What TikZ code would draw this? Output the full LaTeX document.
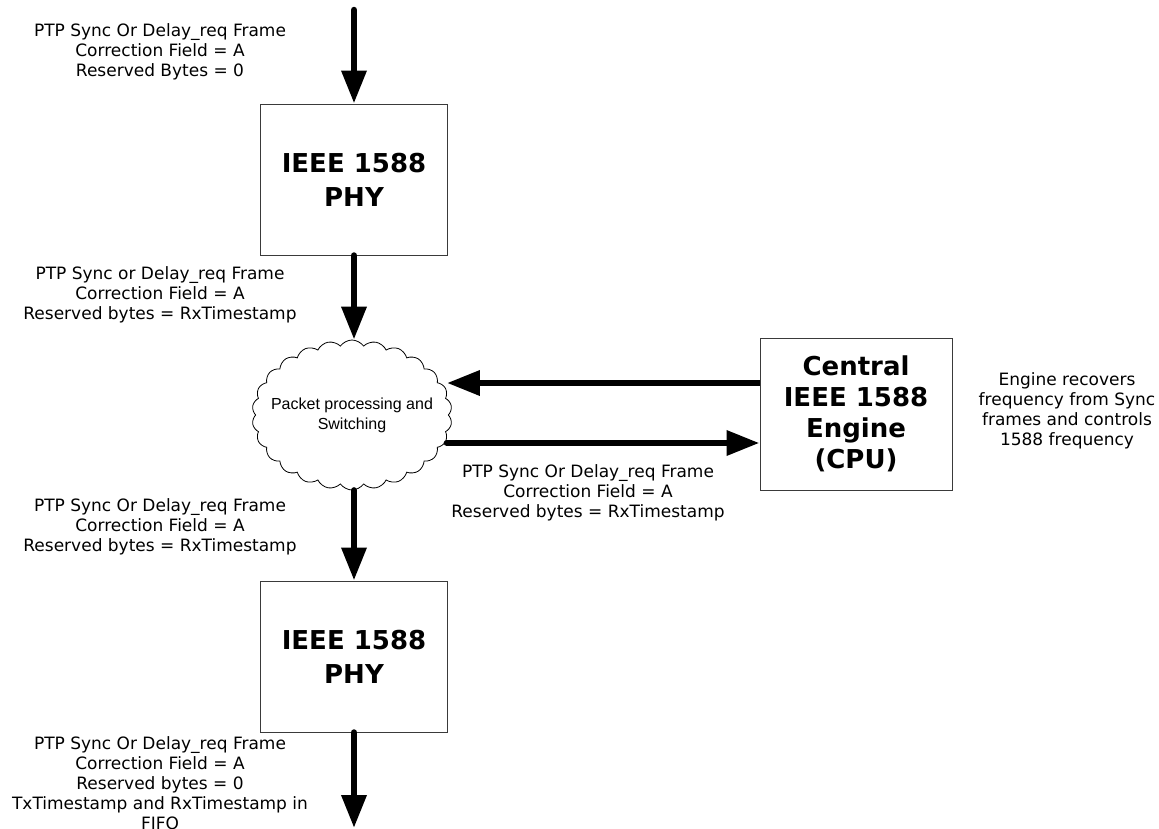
\documentclass[tikz,border=0pt]{standalone}
\usepackage{fontspec}
\setmainfont{DejaVu Sans}
\newfontfamily\cloudfont{Liberation Sans}
\usetikzlibrary{arrows.meta,shapes.symbols,positioning}
\definecolor{ink}{HTML}{000000}
\definecolor{boxline}{HTML}{3A3A3A}
\definecolor{paper}{HTML}{FFFFFF}
\tikzset{
  bigarr/.style={-{Triangle[length=33pt,width=24pt]},line width=6.5pt,color=ink,line cap=round},
  phybox/.style={draw=boxline,fill=paper,line width=1pt,align=center,inner sep=0pt,
    minimum width=187pt,minimum height=151pt,font=\bfseries\fontsize{26pt}{34pt}\selectfont},
  cpubox/.style={draw=boxline,fill=paper,line width=1pt,align=center,inner sep=0pt,
    minimum width=192pt,minimum height=152pt,font=\bfseries\fontsize{26pt}{31pt}\selectfont},
  cloudnode/.style={cloud,draw=ink,line width=0.8pt,cloud puffs=26,cloud puff arc=110,
    cloud ignores aspect,inner sep=0pt,minimum width=200pt,minimum height=150pt},
  cloudtext/.style={align=center,inner sep=0pt,font=\cloudfont\fontsize{16pt}{20pt}\selectfont},
  framenote/.style={align=center,inner sep=0pt,font=\fontsize{17pt}{20pt}\selectfont}
}
\begin{document}
\begin{tikzpicture}[x=1pt,y=-1pt]
  \useasboundingbox[fill=paper] (0,0) rectangle (1159,828);
  \node[phybox] (phyin) at (354,179.5) {IEEE 1588\\PHY};
  \node[cloudnode,label={[cloudtext]center:Packet processing and\\Switching}] (sw) at (352,415) {};
  \node[phybox] (phyout) at (354,656.5) {IEEE 1588\\PHY};
  \node[cpubox] (cpu) at (856,414) {Central\\IEEE 1588\\Engine\\(CPU)};
  \coordinate (wirein) at (354,10);
  \coordinate (wireout) at (354,828);
  \coordinate (toeng) at ([yshift=31pt]cpu.west);
  \coordinate (fromeng) at ([yshift=-29pt]cpu.west);

  \draw[bigarr] (wirein) -- (phyin.north);
  \draw[bigarr] (phyin.south) -- (phyin.south |- sw.north);
  \draw[bigarr] (phyout.north |- sw.south) -- (phyout.north);
  \draw[bigarr] (phyout.south) -- (wireout);
  \draw[bigarr,line cap=butt] (toeng) -- ([xshift=-2pt]toeng -| sw.east);
  \draw[bigarr] ([xshift=-2pt]fromeng -| sw.east) -- (fromeng);

  \node[framenote] (rxin) at (160,51.5) {PTP Sync Or Delay\_req Frame\\Correction Field = A\\Reserved Bytes = 0};
  \node[framenote] (rxstamp) at (160,295) {PTP Sync or Delay\_req Frame\\Correction Field = A\\Reserved bytes = RxTimestamp};
  \node[framenote] (txpath) at (160,527) {PTP Sync Or Delay\_req Frame\\Correction Field = A\\Reserved bytes = RxTimestamp};
  \node[framenote] (txout) at (160,783) {PTP Sync Or Delay\_req Frame\\Correction Field = A\\Reserved bytes = 0\\TxTimestamp and RxTimestamp in\\FIFO};
  \node[framenote] (tocpu) at (588,493) {PTP Sync Or Delay\_req Frame\\Correction Field = A\\Reserved bytes = RxTimestamp};
  \node[framenote] (engnote) at (1067,411) {Engine recovers\\frequency from Sync\\frames and controls\\1588 frequency};
\end{tikzpicture}
\end{document}
